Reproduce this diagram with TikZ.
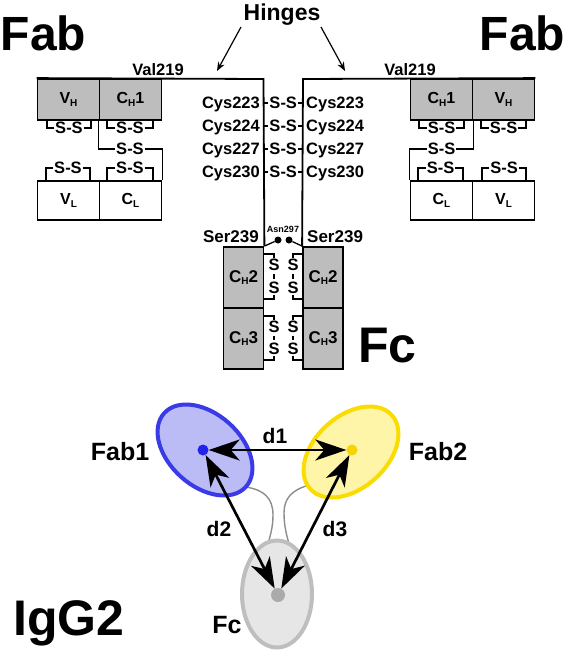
\documentclass[tikz,border=0pt]{standalone}
\usepackage{fontspec}
\setmainfont{Liberation Sans}
\usetikzlibrary{arrows.meta,shapes.geometric}
\definecolor{boxgray}{HTML}{BDBDBD}
\definecolor{bluefill}{HTML}{BBBBF6}
\definecolor{blueline}{HTML}{3A3AE6}
\definecolor{bluedot}{HTML}{2222EE}
\definecolor{yelfill}{HTML}{FFF5A8}
\definecolor{yelline}{HTML}{FADC00}
\definecolor{yeldot}{HTML}{F7D400}
\definecolor{fcfill}{HTML}{E6E6E6}
\definecolor{fcline}{HTML}{BEBEBE}
\definecolor{fcdot}{HTML}{AAAAAA}
\definecolor{linkgray}{HTML}{8C8C8C}
\newcommand{\myfs}[1]{\fontsize{#1}{#1}\selectfont\bfseries}
\newcommand{\mysub}[1]{\raisebox{-2.5pt}{\myfs{10}#1}}
\tikzset{bigtip/.tip={Stealth[length=31pt,width=21pt,inset=9pt]}}
\begin{document}
\begin{tikzpicture}[x=1pt,y=-1pt,
  lab/.style={inner sep=0pt, font=\myfs{16.5}, text height=11.8pt, text depth=0pt},
  serl/.style={inner sep=0pt, font=\myfs{17}, text height=12.2pt, text depth=0pt},
  ssn/.style={inner sep=1pt, font=\myfs{16.5}, text height=11.8pt, text depth=0pt},
  dom/.style={draw=black, line width=1.8pt, fill=boxgray, inner sep=0pt, minimum width=62pt, minimum height=41pt, font=\myfs{16}},
  ldom/.style={dom, fill=white, minimum height=39pt},
  fcdom/.style={dom, minimum width=40pt, minimum height=61pt, font=\myfs{17}},
  chain/.style={line width=1.8pt},
  bond/.style={line width=1.3pt},
  big/.style={inner sep=0pt, font=\myfs{48}},
  bigger/.style={inner sep=0pt, font=\myfs{50}},
  hingearrow/.style={line width=1.2pt, -{Stealth[length=9pt,width=7pt]}},
  dist/.style={line width=2.7pt, bigtip-bigtip},
  mid/.style={inner sep=0pt, font=\myfs{21}, text height=15pt, text depth=0pt},
  part/.style={inner sep=0pt, font=\myfs{25}, text height=17.9pt, text depth=0pt},
  linker/.style={draw=linkgray, line width=1.4pt},
  gdot/.style={circle, fill=black, inner sep=0pt, minimum size=7pt},
]
\useasboundingbox (0,0) rectangle (566,651);
% big labels
\node[big, anchor=base west] (fabL) at (0.5,50) {Fab};
\node[big, anchor=base east] (fabR) at (565.5,50) {Fab};
\node[bigger, anchor=base west] (fcbig) at (358,362) {Fc};
\node[bigger, anchor=base west] (igg) at (13,635) {IgG2};
% hinges
\node[inner sep=0pt, font=\myfs{23}, text height=16.5pt, text depth=0pt] (hinge) at (282,12) {Hinges};
\coordinate (ha) at (241,27); \coordinate (hb) at (217,71);
\coordinate (hc) at (321,27); \coordinate (hd) at (345,71);
\draw[hingearrow] (ha) -- (hb);
\draw[hingearrow] (hc) -- (hd);
% Val219
\node[lab] (valL) at (158,70) {Val219};
\node[lab] (valR) at (410,70) {Val219};
% left Fab domains
\node[dom] (vh1) at (68.5,99.5) {V\mysub{H}};
\node[dom] (ch1) at (130.5,99.5) {C\mysub{H}1};
\node[ldom] (vl1) at (68.5,200.5) {V\mysub{L}};
\node[ldom] (cl1) at (130.5,200.5) {C\mysub{L}};
% right Fab domains
\node[dom] (ch1r) at (441.5,99.5) {C\mysub{H}1};
\node[dom] (vh1r) at (503.5,99.5) {V\mysub{H}};
\node[ldom] (cl1r) at (441.5,200.5) {C\mysub{L}};
\node[ldom] (vl1r) at (503.5,200.5) {V\mysub{L}};
% Fc domains
\node[fcdom] (ch2l) at (243.5,277.5) {C\mysub{H}2};
\node[fcdom] (ch3l) at (243.5,338.5) {C\mysub{H}3};
\node[fcdom] (ch2r) at (323,277.5) {C\mysub{H}2};
\node[fcdom] (ch3r) at (323,338.5) {C\mysub{H}3};
% heavy chains
\coordinate (L1) at (263.5,79); \coordinate (R1) at (303,79);
\draw[chain] (vh1.north west) -- (L1) -- (ch2l.north east);
\draw[chain] (vh1r.north east) -- (R1) -- (ch2r.north west);
% hinge disulfides
\foreach \i/\y/\n in {1/103/223, 2/126/224, 3/149/227, 4/172/230} {
  \node[ssn] (hs\i) at (283.25,\y) {S-S};
  \node[lab, anchor=east] (cysL\i) at (260,\y) {Cys\n};
  \node[lab, anchor=west] (cysR\i) at (306,\y) {Cys\n};
  \draw[bond] (hs\i.west) -- (hs\i.west -| L1);
  \draw[bond] (hs\i.east) -- (hs\i.east -| R1);
}
% left Fab bonds
\node[ssn] (sb1) at (69,128) {S-S};
\draw[bond] (sb1.west) -| (47,120); \draw[bond] (sb1.east) -| (91,120);
\node[ssn] (sb2) at (130,128) {S-S};
\draw[bond] (sb2.west) -| (107,120); \draw[bond] (sb2.east) -| (153,120);
\node[ssn] (sb3) at (130,149) {S-S};
\draw[bond] (ch1.south west) |- (sb3.west); \draw[bond] (sb3.east) -| (cl1.north east);
\node[ssn] (sb4) at (68,168) {S-S};
\draw[bond] (sb4.west) -| (46,181); \draw[bond] (sb4.east) -| (90,181);
\node[ssn] (sb5) at (130,168) {S-S};
\draw[bond] (sb5.west) -| (107,181); \draw[bond] (sb5.east) -| (153,181);
% right Fab bonds
\node[ssn] (sr1) at (441.5,128) {S-S};
\draw[bond] (sr1.west) -| (419,120); \draw[bond] (sr1.east) -| (464,120);
\node[ssn] (sr2) at (503.5,128) {S-S};
\draw[bond] (sr2.west) -| (481,120); \draw[bond] (sr2.east) -| (526,120);
\node[ssn] (sr3) at (441.5,149) {S-S};
\draw[bond] (ch1r.south east) |- (sr3.east); \draw[bond] (sr3.west) -| (cl1r.north west);
\node[ssn] (sr4) at (440.5,168) {S-S};
\draw[bond] (sr4.west) -| (418,181); \draw[bond] (sr4.east) -| (463,181);
\node[ssn] (sr5) at (504,168) {S-S};
\draw[bond] (sr5.west) -| (482,181); \draw[bond] (sr5.east) -| (526,181);
% Fc intradomain bonds
\foreach \k/\ya/\yb/\ta/\tb in {a/265/288/254/299, b/327/349/316/360} {
  \node[ssn] (fl\k1) at (274,\ya) {S};
  \node[ssn] (fl\k2) at (274,\yb) {S};
  \draw[bond] (fl\k1.north) |- (263.5,\ta);
  \draw[bond] (fl\k2.south) |- (263.5,\tb);
  \draw[bond, shorten <=2pt, shorten >=2pt] (fl\k1.south) -- (fl\k2.north);
  \node[ssn] (fr\k1) at (293,\ya) {S};
  \node[ssn] (fr\k2) at (293,\yb) {S};
  \draw[bond] (fr\k1.north) |- (303,\ta);
  \draw[bond] (fr\k2.south) |- (303,\tb);
  \draw[bond, shorten <=2pt, shorten >=2pt] (fr\k1.south) -- (fr\k2.north);
}
% Ser239, Asn297
\node[serl, anchor=east] (serL) at (259,236) {Ser239};
\node[serl, anchor=west] (serR) at (307,236) {Ser239};
\node[inner sep=0pt, font=\myfs{9}] (asn) at (283,229) {Asn297};
\node[gdot] (g1) at (278,240) {};
\node[gdot] (g2) at (289,240) {};
\draw[bond] (ch2l.north east) -- (g1);
\draw[bond] (ch2r.north west) -- (g2);
% ---- schematic ----
\draw[linker] (246,487) .. controls (264,490) and (273,498) .. (273,515) .. controls (273,528) and (270,536) .. (268,544);
\draw[linker] (309,485) .. controls (292,490) and (284,498) .. (284,513) .. controls (284,527) and (287,536) .. (289,544);
\node[ellipse, draw=fcline, fill=fcfill, line width=4pt, minimum width=70pt, minimum height=107pt] (fce) at (277,594) {};
\node[ellipse, draw=blueline, fill=bluefill, line width=4pt, minimum width=110pt, minimum height=72pt, rotate=-42] (f1e) at (205,450) {};
\node[ellipse, draw=yelline, fill=yelfill, line width=4pt, minimum width=110pt, minimum height=72pt, rotate=42] (f2e) at (351,452) {};
\node[circle, fill=bluedot, inner sep=0pt, minimum size=11pt] (bd) at (203,450) {};
\node[circle, fill=yeldot, inner sep=0pt, minimum size=11pt] (yd) at (352,450) {};
\node[circle, fill=fcdot, inner sep=0pt, minimum size=14pt] (fd) at (278,595) {};
\draw[dist] (bd) -- (yd);
\draw[dist] (bd) -- (fd);
\draw[dist] (yd) -- (fd);
\node[mid] (ld1) at (275,436) {d1};
\node[mid] (ld2) at (219,529) {d2};
\node[mid] (ld3) at (335,529) {d3};
\node[part] (lf1) at (120,452) {Fab1};
\node[part] (lf2) at (438,452) {Fab2};
\node[part] (lfc) at (227,625) {Fc};
\end{tikzpicture}
\end{document}
